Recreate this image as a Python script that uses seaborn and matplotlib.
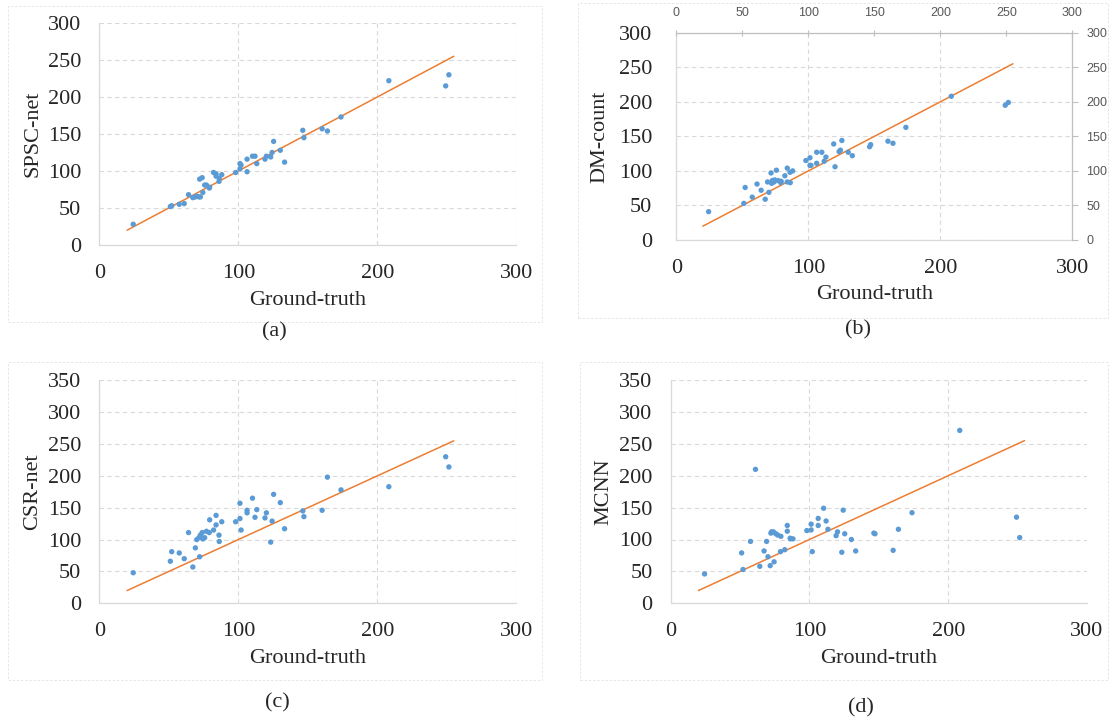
import matplotlib
matplotlib.use("Agg")
import matplotlib.pyplot as plt
import seaborn as sns
import pandas as pd
from matplotlib.patches import Rectangle

# ground-truth counts shared by the four panels
ground_truth = [24.4, 51.1, 52.1, 57.5, 61.1, 64.2, 67.3, 69.1, 70.1, 71.7,
                72.2, 72.7, 74.0, 74.5, 75.8, 77.1, 79.1, 79.4, 82.2, 84.0,
                84.0, 86.1, 86.3, 88.1, 98.1, 101.2, 101.2, 102.0, 106.3, 106.3,
                110.2, 112.0, 113.3, 119.2, 120.2, 123.3, 124.3, 125.4, 130.2, 133.3,
                146.4, 147.2, 160.3, 164.1, 173.9, 208.3, 249.2, 251.5]

spsc_net = [28, 52, 53, 55, 56, 68, 64, 65, 66, 65,
            89, 65, 91, 71, 81, 81, 77, 78, 98, 96,
            93, 86, 90, 95, 98, 103, 110, 108, 99, 116,
            120, 120, 110, 116, 120, 119, 125, 140, 128, 112,
            155, 145, 157, 154, 173, 222, 215, 230]

dm_count = [41, 53, 76, 62, 81, 72, 59, 84, 69, 97,
            82, 86, 84, 87, 101, 86, 83, 85, 93, 104,
            84, 98, 83, 100, 115, 119, 108, 108, 127, 111,
            127, 114, 120, 139, 106, 128, 130, 144, 127, 122,
            135, 138, 143, 140, 163, 208, 195, 199]

csr_net = [48, 66, 81, 79, 70, 111, 57, 87, 100, 103,
           73, 107, 111, 101, 103, 113, 111, 131, 115, 138,
           123, 107, 97, 128, 128, 157, 133, 115, 146, 142,
           165, 135, 147, 134, 142, 96, 129, 171, 158, 117,
           145, 136, 146, 198, 178, 183, 230, 214]

mcnn = [46, 79, 53, 97, 210, 58, 82, 97, 73, 59,
        110, 112, 112, 65, 109, 107, 81, 105, 84, 122,
        113, 102, 101, 101, 114, 115, 124, 81, 122, 133,
        149, 129, 116, 106, 112, 80, 146, 109, 100, 82,
        110, 109, 83, 116, 142, 271, 135, 103]

ref_x = [20, 255]
ref_y = [20, 255]

x_ticks = [0, 100, 200, 300]
y_ticks_300 = [0, 50, 100, 150, 200, 250, 300]
y_ticks_350 = [0, 50, 100, 150, 200, 250, 300, 350]
sec_ticks = [0, 50, 100, 150, 200, 250, 300]

panels = [
    ("SPSC-net", spsc_net, 300, y_ticks_300, "(a)"),
    ("DM-count", dm_count, 300, y_ticks_300, "(b)"),
    ("CSR-net", csr_net, 350, y_ticks_350, "(c)"),
    ("MCNN", mcnn, 350, y_ticks_350, "(d)"),
]

W, H = 1110, 722
# plot-area rectangles in pixels: left, top, right, bottom
areas = [(99.3, 23.0, 516.3, 245.0),
         (676.4, 32.7, 1072.3, 240.0),
         (99.3, 380.3, 516.3, 603.3),
         (670.7, 380.0, 1087.0, 603.3)]
frames = [(8, 6, 542, 322), (578, 3, 1108, 318), (8, 362, 542, 680), (580, 362, 1108, 680)]
captions = [(274, 332), (858, 330), (277, 703), (861, 708)]
ylabel_x = [-0.159, -0.193, -0.159, -0.160]
xlabel_y = [-0.252, -0.265, -0.2475, -0.248]
ytick_pad = [13, 17.5, 13, 13]

sns.set_style("white")
plt.rcParams["font.family"] = ["Liberation Serif", "DejaVu Serif"]

GRID = "#d9d9d9"
BLUE = "#5b9bd5"
ORANGE = "#ed7d31"
FS = 16

fig = plt.figure(figsize=(W / 100, H / 100), dpi=100)
fig.patch.set_facecolor("white")

for i, (name, values, ymax, yticks, cap) in enumerate(panels):
    l, t, r, b = areas[i]
    ax = fig.add_axes([l / W, 1 - b / H, (r - l) / W, (b - t) / H])
    df = pd.DataFrame({"Ground-truth": ground_truth, name: values})

    sns.lineplot(x=ref_x, y=ref_y, ax=ax, color=ORANGE, lw=1.1, zorder=2)
    sns.scatterplot(data=df, x="Ground-truth", y=name, ax=ax, color=BLUE,
                    s=15, edgecolor="none", linewidth=0, zorder=3)

    ax.set_xlim(0, 300)
    ax.set_ylim(0, ymax)
    ax.set_xticks(x_ticks)
    ax.set_yticks(yticks)
    ax.grid(True, color=GRID, linestyle=(0, (4, 3)), lw=0.8)
    ax.set_axisbelow(True)
    for s in ["top", "right"]:
        ax.spines[s].set_visible(False)
    for s in ["left", "bottom"]:
        ax.spines[s].set_color(GRID)
        ax.spines[s].set_linewidth(0.9)
    ax.tick_params(axis="x", length=0, labelsize=FS, pad=13.5)
    ax.tick_params(axis="y", length=0, labelsize=FS, pad=ytick_pad[i])

    ax.set_xlabel("Ground-truth", fontsize=FS)
    ax.set_ylabel(name, fontsize=FS)
    ax.xaxis.set_label_coords(0.5, xlabel_y[i])
    ax.xaxis.label.set_va("center")
    ax.yaxis.set_label_coords(ylabel_x[i], 0.5)
    ax.yaxis.label.set_va("center")

    if i == 1:
        # secondary axes shown on the DM-count panel
        axr = ax.twinx()
        axr.set_ylim(0, 300)
        axr.set_yticks(sec_ticks)
        axt = ax.twiny()
        axt.set_xlim(0, 300)
        axt.set_xticks(sec_ticks)
        for a, keep in [(axr, "right"), (axt, "top")]:
            a.grid(False)
            for s in ["top", "right", "left", "bottom"]:
                a.spines[s].set_visible(s == keep)
            a.spines[keep].set_color("#bfbfbf")
            a.spines[keep].set_linewidth(0.9)
        axr.tick_params(axis="y", length=4, color="#bfbfbf", labelcolor="#595959",
                        labelsize=9, pad=6)
        axt.tick_params(axis="x", length=4, direction="inout", color="#bfbfbf",
                        labelcolor="#595959", labelsize=9, pad=8)
        for lab in axr.get_yticklabels() + axt.get_xticklabels():
            lab.set_family(["Liberation Sans", "DejaVu Sans"])

    fx0, fy0, fx1, fy1 = frames[i]
    fig.patches.append(Rectangle((fx0 / W, 1 - fy1 / H), (fx1 - fx0) / W, (fy1 - fy0) / H,
                                 transform=fig.transFigure, fill=False,
                                 ec="#e3e3e3", lw=0.6, ls=(0, (3, 2))))
    cx, cy = captions[i]
    fig.text(cx / W, 1 - cy / H, cap, ha="center", va="center", fontsize=FS)

fig.savefig("out.png", dpi=100, facecolor="white")
